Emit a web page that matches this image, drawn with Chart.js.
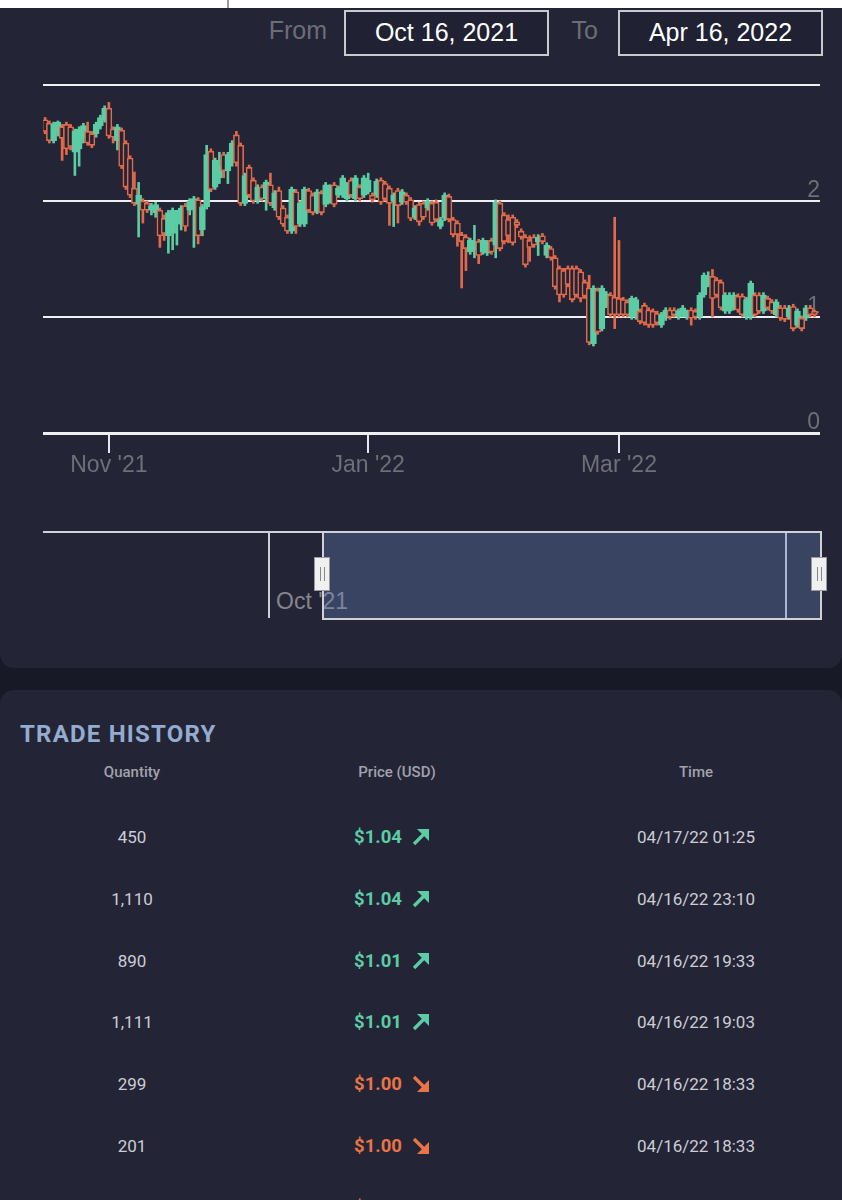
<!DOCTYPE html>
<html><head><meta charset="utf-8">
<script src="https://cdn.jsdelivr.net/npm/chart.js@4.4.1/dist/chart.umd.min.js"></script>
<style>
html,body{margin:0;padding:0}
body{width:842px;height:1200px;overflow:hidden;background:#181926;position:relative;font-family:"Liberation Sans",Arial,sans-serif}
.abs{position:absolute}
#topstrip{left:0;top:0;width:842px;height:8px;background:#fff}
#topline{left:227px;top:0;width:2px;height:8px;background:#9a9a9a}
#panel1{left:0;top:8px;width:842px;height:660px;background:#232435;border-radius:0 0 14px 14px}
#panel2{left:0;top:690px;width:842px;height:530px;background:#232435;border-radius:14px 14px 0 0}
.lbl{color:#6d6d75;font-size:25px;line-height:30px}
.datebox{border:2px solid #c9c9cf;color:#fff;font-size:25px;text-align:center;line-height:41px;box-sizing:border-box;height:46px;width:205px;background:#202132}
.navline{background:#cfd0d8}
.handle{width:16px;height:34px;background:#f0f0f0;border:1px solid #9a9a9a;box-sizing:border-box}
.handle:before,.handle:after{content:"";position:absolute;top:9px;width:1px;height:14px;background:#888}
.handle:before{left:5px}.handle:after{left:9px}
.th{font-family:Roboto,sans-serif;font-weight:500;font-size:15px;color:#a2a2ac;text-align:center;width:200px;line-height:20px}
.cell{font-family:Roboto,sans-serif;font-size:17px;color:#cdcdd4;text-align:center;width:260px;height:24px;line-height:24px}
.pcell{font-family:Roboto,sans-serif;font-weight:700;font-size:18.5px;width:260px;height:24px;display:flex;justify-content:center;align-items:center;gap:10px}
</style></head>
<body>
<div id="topstrip" class="abs"></div><div id="topline" class="abs"></div>
<div id="panel1" class="abs"></div>
<div class="abs lbl" style="left:200px;top:15px;width:127px;text-align:right">From</div>
<div class="abs datebox" style="left:344px;top:10px">Oct 16, 2021</div>
<div class="abs lbl" style="left:500px;top:15px;width:98px;text-align:right">To</div>
<div class="abs datebox" style="left:618px;top:10px">Apr 16, 2022</div>
<canvas id="c" width="842" height="440" class="abs" style="left:0;top:70px"></canvas>

<!-- navigator -->
<div class="abs navline" style="left:43px;top:531px;width:779px;height:2px"></div>
<div class="abs navline" style="left:268px;top:532px;width:1.5px;height:86px"></div>
<div class="abs" style="left:276px;top:588px;font-size:23px;color:#85858d;line-height:26px">Oct '21</div>
<div class="abs navline" style="left:785px;top:532px;width:1.5px;height:86px"></div>
<div class="abs" style="left:322px;top:531px;width:500px;height:89px;box-sizing:border-box;border:2px solid #cfd0d8;background:rgba(102,133,194,0.33)"></div>
<div class="abs handle" style="left:314px;top:557px"></div>
<div class="abs handle" style="left:811px;top:557px"></div>

<div id="panel2" class="abs"></div>
<div class="abs" style="left:20px;top:720px;font-family:Roboto,sans-serif;font-weight:700;font-size:24px;letter-spacing:1.2px;color:#93acd0;line-height:28px">TRADE HISTORY</div>
<div class="abs th" style="left:32px;top:762px">Quantity</div>
<div class="abs th" style="left:297px;top:762px">Price (USD)</div>
<div class="abs th" style="left:596px;top:762px">Time</div>
<div id="rows"></div>

<script>
// ---- candle data (Oct 17, 2021 .. Apr 16, 2022), one candle per day ----
const opens = [
2.70,2.67,2.52,2.60,2.64,2.66,2.64,2.42,2.45,2.55,
2.60,2.58,2.58,2.65,2.70,2.80,2.62,2.52,2.61,2.50,
2.37,2.11,1.97,2.00,1.98,1.92,1.90,1.92,1.85,1.70,
1.72,1.80,1.80,1.96,1.92,1.96,2.01,1.75,1.95,2.43,
2.12,2.20,2.40,2.26,2.35,2.57,2.48,1.98,2.29,2.18,
2.00,2.12,2.02,2.14,1.94,2.09,1.94,1.86,1.74,2.08,1.80,
1.80,2.09,2.05,1.91,2.07,1.97,2.00,2.14,2.05,2.05,
2.02,2.18,2.02,2.12,2.05,2.08,2.05,2.05,2.18,2.15,
2.11,2.00,2.09,1.99,2.05,2.01,1.86,1.97,1.98,1.94,
1.98,1.99,1.78,1.85,2.04,1.84,1.81,1.71,1.69,1.56,
1.58,1.65,1.56,1.55,1.66,1.62,1.98,1.88,1.84,1.86,
1.82,1.74,1.69,1.66,1.69,1.65,1.70,1.53,1.59,1.51,1.42,
1.40,1.42,1.42,1.42,1.39,1.30,1.25,0.77,1.23,0.90,
1.10,1.19,1.17,1.16,1.15,1.13,1.00,1.00,1.05,1.10,
1.06,1.05,1.03,0.93,0.99,1.06,1.06,1.00,1.02,1.00,
1.06,1.05,1.00,1.19,1.28,1.35,1.32,1.30,1.05,1.05,
1.08,1.18,1.18,1.00,1.00,1.19,1.19,1.05,1.16,1.13,
1.02,1.08,1.08,1.00,1.09,0.93,0.99,0.99,1.08,1.05];
const highs = [
2.72,2.69,2.68,2.69,2.66,2.68,2.66,2.62,2.64,2.67,
2.68,2.60,2.68,2.74,2.82,2.85,2.64,2.66,2.63,2.52,
2.39,2.25,2.16,2.02,2.00,1.98,1.99,1.94,1.88,1.92,
1.94,1.92,1.96,1.98,2.02,2.04,2.03,1.97,2.48,2.45,
2.37,2.42,2.42,2.42,2.52,2.60,2.50,2.24,2.31,2.20,
2.14,2.14,2.18,2.24,2.09,2.12,1.96,1.88,2.12,2.10,2.00,
2.12,2.11,2.07,2.10,2.09,2.16,2.14,2.16,2.13,2.22,
2.16,2.20,2.22,2.14,2.22,2.24,2.07,2.19,2.20,2.17,
2.13,2.07,2.11,2.10,2.07,2.03,1.96,1.99,2.00,2.02,
2.00,2.01,1.86,2.07,2.06,1.86,1.83,1.73,1.71,1.68,
1.79,1.67,1.68,1.66,1.68,2.01,2.00,1.90,1.88,1.88,
1.84,1.76,1.71,1.70,1.71,1.71,1.72,1.64,1.61,1.53,1.44,
1.42,1.44,1.44,1.44,1.41,1.32,1.36,1.27,1.25,1.27,
1.22,1.21,1.86,1.66,1.17,1.15,1.18,1.17,1.07,1.12,
1.08,1.07,1.05,1.04,1.08,1.08,1.08,1.07,1.10,1.06,
1.08,1.07,1.21,1.38,1.39,1.41,1.34,1.32,1.21,1.21,
1.21,1.20,1.20,1.17,1.31,1.21,1.21,1.21,1.18,1.15,
1.15,1.10,1.10,1.10,1.11,1.07,1.01,1.10,1.10,1.06];
const lows = [
2.58,2.50,2.50,2.56,2.35,2.40,2.44,2.22,2.30,2.50,
2.48,2.46,2.55,2.62,2.68,2.54,2.50,2.44,2.28,2.10,
2.03,1.96,1.69,1.81,1.90,1.88,1.86,1.60,1.66,1.55,
1.58,1.62,1.75,1.74,1.88,1.60,1.63,1.70,1.93,2.08,
2.10,2.15,2.20,2.15,2.30,2.30,1.96,1.96,2.03,1.98,
1.98,2.00,1.92,1.96,1.92,1.84,1.78,1.72,1.72,1.72,1.78,
1.78,1.90,1.88,1.89,1.88,1.95,1.98,1.95,2.03,2.03,
2.00,2.03,2.00,2.00,2.03,2.06,1.99,2.03,1.97,2.00,
1.79,1.78,1.81,1.97,1.97,1.83,1.84,1.79,1.84,1.92,
1.79,1.82,1.76,1.83,1.82,1.69,1.61,1.25,1.40,1.54,
1.51,1.46,1.54,1.53,1.54,1.51,1.57,1.63,1.64,1.62,
1.77,1.67,1.43,1.48,1.60,1.53,1.63,1.51,1.49,1.24,1.13,
1.17,1.26,1.13,1.17,1.13,1.16,0.76,0.75,0.85,0.88,
1.08,1.00,0.90,1.00,1.00,1.00,0.98,0.98,0.94,0.93,
0.91,0.91,0.93,0.91,0.97,0.98,1.00,0.98,1.00,0.98,
0.93,0.98,0.98,1.17,1.26,1.00,1.17,1.06,1.03,1.03,
1.06,1.04,1.00,0.98,0.98,1.00,1.03,1.03,1.06,1.03,
1.00,0.97,0.96,0.98,0.88,0.91,0.88,0.97,1.00,1.00];
const closes = [
2.60,2.52,2.66,2.68,2.54,2.45,2.47,2.60,2.62,2.65,
2.50,2.48,2.66,2.72,2.80,2.56,2.55,2.64,2.30,2.12,
2.05,1.98,2.05,1.92,1.92,1.96,1.97,1.70,1.72,1.90,
1.92,1.90,1.94,1.78,2.00,2.02,1.70,1.95,2.40,2.10,
2.35,2.30,2.26,2.40,2.50,2.33,1.98,2.22,2.05,2.00,
2.12,2.02,2.16,1.98,2.07,1.86,1.80,1.74,2.10,1.78,1.98,
2.10,1.92,1.90,2.08,1.90,2.14,2.12,1.97,2.11,2.20,
2.14,2.05,2.20,2.02,2.20,2.18,2.01,2.17,1.99,2.02,
1.98,2.05,1.96,2.08,1.99,1.85,1.94,1.82,1.86,2.00,
1.81,1.84,1.84,2.05,1.84,1.71,1.71,1.65,1.59,1.66,
1.65,1.53,1.66,1.64,1.56,1.99,1.59,1.65,1.70,1.64,
1.79,1.69,1.45,1.60,1.62,1.69,1.65,1.62,1.51,1.26,1.19,
1.19,1.28,1.15,1.19,1.16,1.18,0.78,1.25,0.87,1.25,
1.20,1.02,1.02,1.02,1.02,1.02,1.16,1.15,0.96,0.95,
0.93,0.93,0.95,1.02,1.06,1.00,1.02,1.05,1.08,1.04,
0.99,1.00,1.19,1.36,1.35,1.16,1.19,1.08,1.19,1.19,
1.19,1.06,1.02,1.15,1.29,1.02,1.05,1.19,1.08,1.05,
1.13,0.99,0.98,1.08,0.90,1.05,0.90,1.08,1.02,1.02];
// day index: Oct 16, 2021 = 0
const days = opens.map((_, i) => i + 1);
const xTickDays = [16, 77, 136];
const xTickLabels = ["Nov '21", "Jan '22", "Mar '22"];
const yTickValues = [0, 1, 2, 3];
const yTickLabels = ['0', '1', '2', ''];

// ---- trade history ----
const tradeQty = ['450', '1,110', '890', '1,111', '299', '201'];
const tradePrice = ['$1.04', '$1.04', '$1.01', '$1.01', '$1.00', '$1.00', '$1.00'];
const tradeDir = ['up', 'up', 'up', 'up', 'down', 'down', 'down'];
const tradeTime = ['04/17/22 01:25', '04/16/22 23:10', '04/16/22 19:33', '04/16/22 19:03', '04/16/22 18:33', '04/16/22 18:33'];

const GREEN = '#5ccca4', RED = '#e2694a', BG = '#232435';
const up = closes.map((c, i) => c >= opens[i]);

new Chart(document.getElementById('c'), {
  type: 'bar',
  data: {
    datasets: [
      { data: days.map((d, i) => ({ x: d, y: [opens[i], closes[i]] })),
        backgroundColor: up.map(u => u ? GREEN : BG),
        borderColor: up.map(u => u ? GREEN : RED),
        borderWidth: 1.6, borderSkipped: false, barThickness: 6, grouped: false, order: 0 },
      { data: days.map((d, i) => ({ x: d, y: [lows[i], highs[i]] })),
        backgroundColor: up.map(u => u ? GREEN : RED),
        borderWidth: 0, barThickness: 2, grouped: false, order: 1 }
    ]
  },
  options: {
    responsive: false, animation: false, events: [],
    layout: { padding: { left: 43, right: 22, top: 15, bottom: 0 } },
    plugins: { legend: { display: false }, tooltip: { enabled: false } },
    scales: {
      x: {
        type: 'linear', min: 0.5, max: 183.3, offset: false,
        afterBuildTicks: s => { s.ticks = xTickDays.map(v => ({ value: v })); },
        afterFit: s => { s.height = 77; },
        grid: { offset: false, drawOnChartArea: false, drawTicks: true, tickLength: 20, color: '#e6e6ee', lineWidth: 2 },
        border: { display: false },
        ticks: { autoSkip: false, maxRotation: 0, padding: 1, color: '#6f6f77',
          font: { family: 'Liberation Sans', size: 23, lineHeight: 1 },
          callback: (v, i) => xTickLabels[i] }
      },
      y: {
        position: 'right', min: 0, max: 3,
        afterBuildTicks: s => { s.ticks = yTickValues.map(v => ({ value: v })); },
        afterFit: s => { s.width = 0; },
        grid: { drawTicks: false, color: '#eeeef3', lineWidth: c => (c.tick && c.tick.value === 0) ? 3 : 2 },
        border: { display: false },
        ticks: { mirror: true, padding: 0, labelOffset: -10.5, color: '#6f6f77',
          font: { family: 'Liberation Sans', size: 23, lineHeight: 1 },
          callback: (v, i) => yTickLabels[i] }
      }
    }
  }
});

// trade rows
function arrowSvg(dir, color) {
  if (dir === 'up')
    return `<svg width="18" height="18" viewBox="0 0 18 18"><line x1="2" y1="16" x2="13" y2="5" stroke="${color}" stroke-width="3.4"/><polygon points="5,1 17,1 17,13" fill="${color}"/></svg>`;
  return `<svg width="18" height="18" viewBox="0 0 18 18"><line x1="2" y1="2" x2="13" y2="13" stroke="${color}" stroke-width="3.4"/><polygon points="17,5 17,17 5,17" fill="${color}"/></svg>`;
}
const rows = document.getElementById('rows');
let html = '';
tradePrice.forEach((p, i) => {
  const cy = 837 + 61.8 * i;
  const col = tradeDir[i] === 'up' ? '#5ccca4' : '#ea7448';
  if (tradeQty[i] !== undefined)
    html += `<div class="abs cell" style="left:2px;top:${cy - 12}px">${tradeQty[i]}</div>`;
  html += `<div class="abs pcell" style="left:262px;top:${cy - 12}px;color:${col}"><span>${p}</span>${arrowSvg(tradeDir[i], col)}</div>`;
  if (tradeTime[i] !== undefined)
    html += `<div class="abs cell" style="left:566px;top:${cy - 12}px">${tradeTime[i]}</div>`;
});
rows.innerHTML = html;
</script>
</body></html>
